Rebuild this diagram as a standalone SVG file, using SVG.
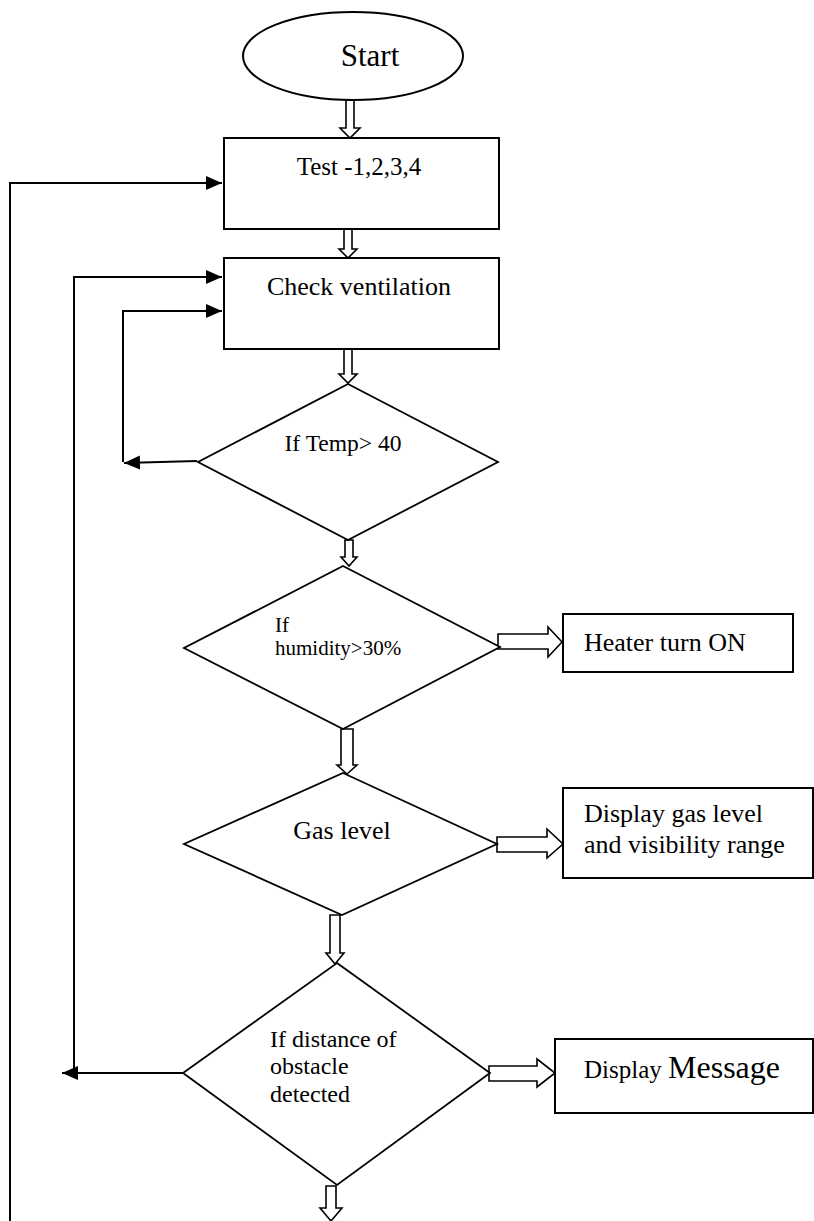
<svg xmlns="http://www.w3.org/2000/svg" width="814" height="1221" viewBox="0 0 814 1221">
<style>
.sh{fill:#fff;stroke:#000;stroke-width:2}
.dm{fill:#fff;stroke:#000;stroke-width:1.8}
.ba{fill:#fff;stroke:#000;stroke-width:1.6;stroke-linejoin:miter}
.ln{fill:none;stroke:#000;stroke-width:2}
text{font-family:"Liberation Serif","Times New Roman",serif;fill:#000}
</style>
<defs>
<marker id="ah" markerUnits="userSpaceOnUse" markerWidth="17" markerHeight="15" refX="16" refY="7" orient="auto">
<path d="M0,0 L16,7 L0,14 z" fill="#000"/>
</marker>
</defs>
<rect width="814" height="1221" fill="#fff"/>
<g id="connectors">
<polyline class="ln" points="10,1221 10,183 222,183" marker-end="url(#ah)"/>
<polyline class="ln" points="74,1073 74,277 222,277" marker-end="url(#ah)"/>
<polyline class="ln" points="123,462 123,311 222,311" marker-end="url(#ah)"/>
<line class="ln" x1="197" y1="461" x2="124" y2="463" marker-end="url(#ah)"/>
<line class="ln" x1="183" y1="1073" x2="62" y2="1073" marker-end="url(#ah)"/>
<polygon class="ba" points="346,100 354,100 354,128 360,128 350,138 340,128 346,128"/>
<polygon class="ba" points="344,229 352,229 352,249 357,249 348,258 339,249 344,249"/>
<polygon class="ba" points="344,349 352,349 352,374 357,374 348,383 339,374 344,374"/>
<polygon class="ba" points="345,540 353,540 353,557 357,557 349,566 341,557 345,557"/>
<polygon class="ba" points="341,729 353,729 353,765 357,765 347,774 337,765 341,765"/>
<polygon class="ba" points="330,915 340,915 340,953 344,953 335,964 326,953 330,953"/>
<polygon class="ba" points="326,1186 336,1186 336,1208 342,1208 331,1221 320,1208 326,1208"/>
<polygon class="ba" points="498,634 548,634 548,627 562,642 548,657 548,649 498,649"/>
<polygon class="ba" points="497,837 547,837 547,829 563,844 547,858 547,852 497,852"/>
<polygon class="ba" points="489,1066 537,1066 537,1059 555,1073 537,1087 537,1081 489,1081"/>
</g>
<g id="start">
<ellipse class="sh" cx="353" cy="56" rx="110" ry="44"/>
<text x="370" y="66" font-size="31" text-anchor="middle">Start</text>
</g>
<g id="test">
<rect class="sh" x="224" y="138" width="275" height="91"/>
<text x="359" y="175" font-size="25" text-anchor="middle">Test -1,2,3,4</text>
</g>
<g id="check">
<rect class="sh" x="224" y="258" width="275" height="91"/>
<text x="359" y="295" font-size="26" text-anchor="middle">Check ventilation</text>
</g>
<g id="temp">
<polygon class="dm" points="348,384 498,462 348,540 198,462"/>
<text x="343" y="451" font-size="23.5" text-anchor="middle">If Temp&gt; 40</text>
</g>
<g id="humidity">
<polygon class="dm" points="343,566 500,647 343,729 184,648"/>
<text x="275" y="632" font-size="21">If</text>
<text x="275" y="655" font-size="21">humidity&gt;30%</text>
</g>
<g id="heater">
<rect class="sh" x="563" y="614" width="230" height="58"/>
<text x="584" y="651" font-size="26">Heater turn ON</text>
</g>
<g id="gas">
<polygon class="dm" points="343,773 497,844 342,915 184,844"/>
<text x="342" y="839" font-size="26" text-anchor="middle">Gas level</text>
</g>
<g id="displaygas">
<rect class="sh" x="563" y="788" width="250" height="90"/>
<text x="584" y="822" font-size="26">Display gas level</text>
<text x="584" y="853" font-size="26">and visibility range</text>
</g>
<g id="obstacle">
<polygon class="dm" points="337,963 490,1073 337,1185 183,1073"/>
<text x="270" y="1047" font-size="24">If distance of</text>
<text x="270" y="1074" font-size="24">obstacle</text>
<text x="270" y="1102" font-size="24">detected</text>
</g>
<g id="message">
<rect class="sh" x="555" y="1039" width="258" height="74"/>
<text x="584" y="1078" font-size="25">Display <tspan font-size="32">Message</tspan></text>
</g>
</svg>
